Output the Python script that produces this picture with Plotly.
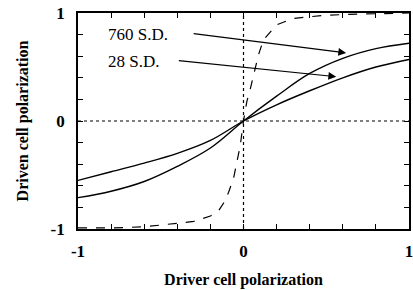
import plotly.graph_objects as go

# Data
x_arr = [-1.0, -0.8, -0.6, -0.4, -0.2, 0.0, 0.2, 0.4, 0.6, 0.8, 1.0]
sd760 = [-0.71, -0.65, -0.56, -0.42, -0.25, 0.0, 0.23, 0.44, 0.58, 0.67, 0.72]
sd28 = [-0.55, -0.47, -0.39, -0.30, -0.18, 0.0, 0.15, 0.28, 0.40, 0.50, 0.57]

x_single = [-1.0, -0.8, -0.6, -0.4, -0.3, -0.2, -0.15, -0.12, -0.09, -0.06, -0.03, -0.02, 0.0,
            0.02, 0.04, 0.06, 0.09, 0.12, 0.17, 0.2, 0.3, 0.5, 0.7, 1.0]
y_single = [-0.99, -0.99, -0.98, -0.95, -0.93, -0.88, -0.83, -0.76, -0.66, -0.53, -0.32, -0.23, 0.0,
            0.18, 0.29, 0.42, 0.61, 0.75, 0.84, 0.89, 0.95, 0.98, 0.99, 1.0]

labels = ["760 S.D.", "28 S.D."]
label_pos = [(-0.83, 0.80), (-0.83, 0.55)]
arrow_start = [(-0.31, 0.81), (-0.40, 0.56)]
arrow_end = [(0.62, 0.63), (0.56, 0.41)]

tick_vals = [-1.0, -0.8, -0.6, -0.4, -0.2, 0.0, 0.2, 0.4, 0.6, 0.8, 1.0]
tick_text = ["-1", "", "", "", "", "0", "", "", "", "", "1"]

FONT = "Liberation Serif"

fig = go.Figure()
# dotted zero lines
fig.add_trace(go.Scatter(x=[0, 0], y=[-1, 1], mode="lines",
                         line=dict(color="black", width=1.2, dash="dot"), showlegend=False))
fig.add_trace(go.Scatter(x=[-1, 1], y=[0, 0], mode="lines",
                         line=dict(color="black", width=1.2, dash="dot"), showlegend=False))
fig.add_trace(go.Scatter(x=x_single, y=y_single, mode="lines",
                         line=dict(color="black", width=1.2, dash="dash"), showlegend=False))
fig.add_trace(go.Scatter(x=x_arr, y=sd760, mode="lines", line_shape="spline",
                         line=dict(color="black", width=1.4), showlegend=False))
fig.add_trace(go.Scatter(x=x_arr, y=sd28, mode="lines", line_shape="spline",
                         line=dict(color="black", width=1.4), showlegend=False))

for lab, (lx, ly), (sx, sy), (ex, ey) in zip(labels, label_pos, arrow_start, arrow_end):
    fig.add_annotation(x=lx, y=ly, text=lab, showarrow=False, xanchor="left", yanchor="middle",
                       font=dict(family=FONT, size=17, color="black"))
    fig.add_annotation(x=ex, y=ey, ax=sx, ay=sy, axref="x", ayref="y", xref="x", yref="y",
                       text="", showarrow=True, arrowhead=2, arrowsize=1.3, arrowwidth=1.2,
                       arrowcolor="black")

axis_common = dict(showgrid=False, zeroline=False, showline=True, linecolor="black", linewidth=1.8,
                   mirror="ticks", ticks="inside", ticklen=5, tickwidth=1.3, tickcolor="black",
                   tickmode="array", tickvals=tick_vals, ticktext=tick_text,
                   tickfont=dict(family=FONT, size=17, color="black", weight="bold"),
                   ticklabeloverflow="allow", automargin=False, range=[-1, 1])

fig.update_xaxes(title=dict(text="Driver cell polarization", standoff=14,
                            font=dict(family=FONT, size=16, color="black", weight="bold")),
                 ticklabelstandoff=6, **axis_common)
fig.update_yaxes(title=dict(text="Driven cell polarization", standoff=18,
                            font=dict(family=FONT, size=16, color="black", weight="bold")),
                 ticklabelstandoff=8, **axis_common)

fig.update_layout(width=413, height=290, margin=dict(l=78, r=4, t=13, b=61),
                  paper_bgcolor="white", plot_bgcolor="white",
                  font=dict(family=FONT, color="black"))

fig.write_html("out.html", config={"displayModeBar": False},
               post_script="document.body.style.margin='0';document.body.style.overflow='hidden';")
